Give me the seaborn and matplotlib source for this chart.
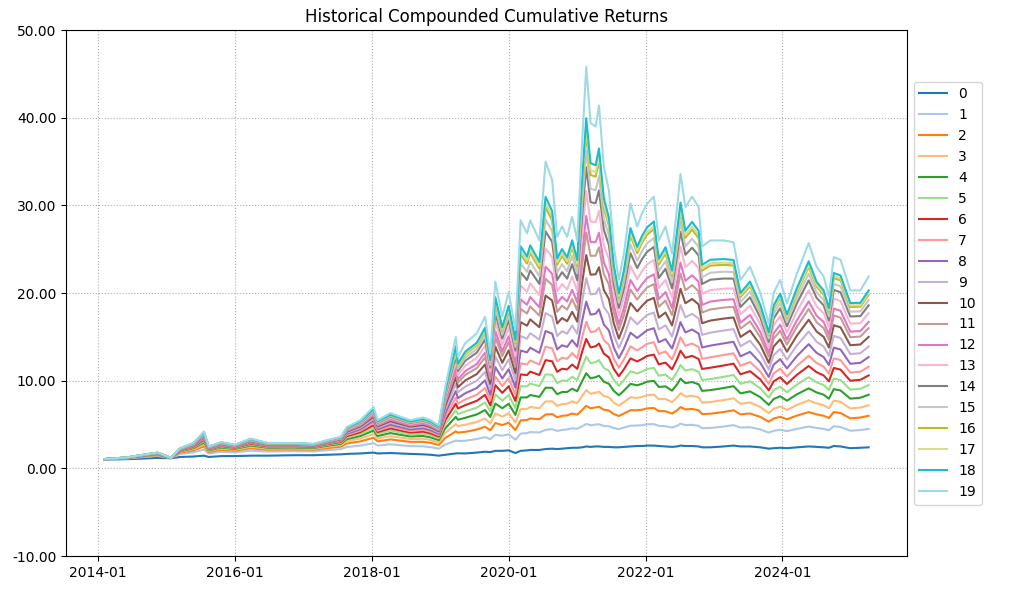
import numpy as np
import pandas as pd
import matplotlib
matplotlib.use("Agg")
import matplotlib.pyplot as plt
import matplotlib.dates as mdates
from matplotlib.ticker import FormatStrFormatter
import seaborn as sns

# dates (approx.)
dates = ["2014-02-03", "2014-06-05", "2014-08-15", "2014-11-15", "2015-01-25", "2015-03-15",
         "2015-05-25", "2015-07-20", "2015-08-15", "2015-10-20", "2016-01-01", "2016-03-25",
         "2016-06-25", "2016-11-10", "2017-02-25", "2017-05-05", "2017-07-20", "2017-08-20",
         "2017-11-01", "2018-01-10", "2018-02-01", "2018-04-10", "2018-06-01", "2018-07-25",
         "2018-10-01", "2018-11-10", "2018-12-24", "2019-01-28", "2019-03-25", "2019-04-05",
         "2019-05-15", "2019-07-15", "2019-08-28", "2019-09-25", "2019-10-22", "2019-11-28",
         "2020-01-01", "2020-02-06", "2020-03-05", "2020-04-08", "2020-04-25", "2020-06-13",
         "2020-07-16", "2020-08-20", "2020-09-16", "2020-10-12", "2020-11-08", "2020-12-05",
         "2021-01-01", "2021-01-28", "2021-02-18", "2021-03-13", "2021-04-09", "2021-04-27",
         "2021-05-23", "2021-06-19", "2021-07-15", "2021-08-11", "2021-09-07", "2021-10-12",
         "2021-11-17", "2021-12-13", "2022-01-09", "2022-02-14", "2022-03-12", "2022-04-17",
         "2022-05-22", "2022-06-18", "2022-07-06", "2022-08-01", "2022-09-06", "2022-10-11",
         "2022-10-29", "2022-12-12", "2023-02-22", "2023-04-15", "2023-05-22", "2023-07-12",
         "2023-09-05", "2023-10-20", "2023-11-15", "2023-12-20", "2024-01-25", "2024-03-18",
         "2024-05-20", "2024-07-01", "2024-08-08", "2024-09-05", "2024-10-01", "2024-11-06",
         "2024-12-28", "2025-02-20", "2025-04-05"]

# lowest series (0)
base_returns = [1.0, 1.05, 1.1, 1.2, 1.15, 1.3,
                1.35, 1.45, 1.3, 1.4, 1.4, 1.45,
                1.45, 1.5, 1.5, 1.55, 1.6, 1.65,
                1.7, 1.8, 1.7, 1.75, 1.7, 1.65,
                1.6, 1.55, 1.45, 1.55, 1.7, 1.72,
                1.7, 1.8, 1.9, 1.85, 2.0, 2.0,
                2.05, 1.75, 2.0, 2.05, 2.1, 2.1,
                2.2, 2.25, 2.2, 2.25, 2.3, 2.35,
                2.35, 2.4, 2.5, 2.45, 2.5, 2.5,
                2.45, 2.45, 2.4, 2.4, 2.45, 2.5,
                2.55, 2.55, 2.6, 2.6, 2.55, 2.5,
                2.45, 2.5, 2.6, 2.55, 2.55, 2.5,
                2.4, 2.4, 2.5, 2.6, 2.5, 2.5,
                2.4, 2.25, 2.3, 2.35, 2.3, 2.4,
                2.5, 2.45, 2.4, 2.35, 2.55, 2.5,
                2.3, 2.35, 2.4]

# highest series (19)
top_returns = [1.06, 1.25, 1.5, 1.8, 1.2, 2.3,
               2.9, 4.2, 2.5, 3.0, 2.7, 3.4,
               2.9, 2.9, 2.8, 3.2, 3.6, 4.7,
               5.5, 7.0, 5.5, 6.3, 5.9, 5.5,
               5.8, 5.5, 4.9, 9.3, 15.0, 12.7,
               14.3, 15.4, 17.3, 13.1, 21.3, 17.3,
               20.1, 15.8, 28.3, 26.8, 28.3, 26.0,
               35.0, 32.9, 26.4, 27.6, 26.4, 28.7,
               26.0, 37.5, 45.8, 39.4, 39.0, 41.4,
               34.4, 31.7, 25.3, 21.5, 24.5, 30.2,
               27.6, 29.1, 30.2, 31.0, 26.0, 27.6,
               24.5, 29.8, 33.6, 29.8, 31.0, 29.8,
               25.3, 26.0, 26.0, 25.8, 21.5, 23.0,
               20.0, 16.5, 20.0, 21.5, 18.8, 22.2,
               25.7, 23.0, 21.9, 19.6, 24.1, 23.8,
               20.3, 20.3, 21.9]

# final value of every series, read at the right end of the lines
end_values = [2.4, 4.5, 6.0, 7.2, 8.4, 9.5, 10.6, 11.6, 12.7, 13.9,
              15.0, 16.0, 16.7, 17.7, 18.6, 19.2, 19.8, 20.0, 20.3, 21.9]

series_names = [str(i) for i in range(20)]

# the series in between follow 0 and 19 (power mean, p = -0.75),
# placed by their end values
p = -0.75
base = np.array(base_returns)
top = np.array(top_returns)
rows = []
for name, end in zip(series_names, end_values):
    u = (end_values[0] ** p - end ** p) / (end_values[0] ** p - end_values[-1] ** p)
    vals = ((1 - u) * base ** p + u * top ** p) ** (1 / p)
    for d, v in zip(dates, vals):
        rows.append({"Date": pd.Timestamp(d), "Series": name, "Return": v})
df = pd.DataFrame(rows)

fig, ax = plt.subplots(figsize=(10.11, 5.9), dpi=100)
fig.subplots_adjust(left=0.0653, right=0.897, bottom=0.0576, top=0.949)

sns.lineplot(data=df, x="Date", y="Return", hue="Series", hue_order=series_names,
             palette="tab20", estimator=None, linewidth=1.5, ax=ax)

ax.set_title("Historical Compounded Cumulative Returns")
ax.set_xlabel("")
ax.set_ylabel("")
ax.set_ylim(-10, 50)
ax.yaxis.set_major_formatter(FormatStrFormatter("%.2f"))
ax.xaxis.set_major_locator(mdates.YearLocator(2))
ax.xaxis.set_major_formatter(mdates.DateFormatter("%Y-%m"))
ax.grid(True, linestyle=":")
sns.move_legend(ax, "center left", bbox_to_anchor=(1, 0.5), title=None)

plt.savefig("out.png", dpi=100)
